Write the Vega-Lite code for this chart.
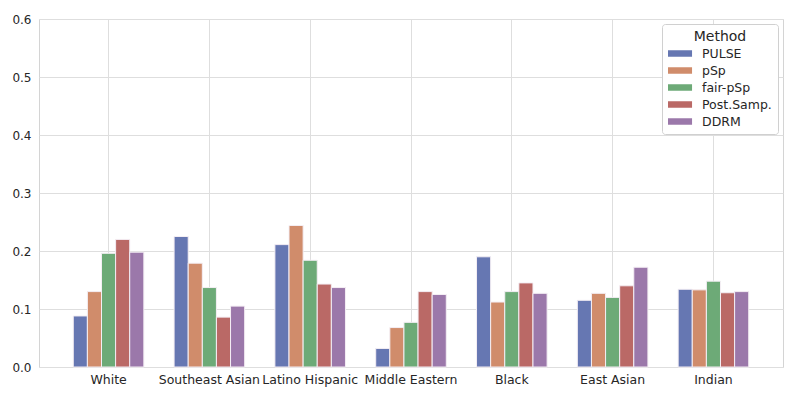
{
  "$schema": "https://vega.github.io/schema/vega-lite/v6.json",
  "width": 744,
  "height": 348,
  "autosize": {"type": "none"},
  "padding": {"left": 39, "top": 19, "right": 14, "bottom": 32},
  "background": "white",
  "config": {
    "font": "DejaVu Sans",
    "view": {"stroke": "#d4d4d4", "strokeWidth": 1},
    "axis": {"labelFont": "DejaVu Sans", "labelColor": "#262626", "labelFontSize": 12, "gridColor": "#dedede", "gridWidth": 1, "domain": false, "ticks": false, "title": null}
  },
  "data": {
    "values": [
      {"group": "White", "method": "PULSE", "value": 0.088},
      {"group": "White", "method": "pSp", "value": 0.130},
      {"group": "White", "method": "fair-pSp", "value": 0.196},
      {"group": "White", "method": "Post.Samp.", "value": 0.220},
      {"group": "White", "method": "DDRM", "value": 0.198},
      {"group": "Southeast Asian", "method": "PULSE", "value": 0.225},
      {"group": "Southeast Asian", "method": "pSp", "value": 0.179},
      {"group": "Southeast Asian", "method": "fair-pSp", "value": 0.137},
      {"group": "Southeast Asian", "method": "Post.Samp.", "value": 0.086},
      {"group": "Southeast Asian", "method": "DDRM", "value": 0.105},
      {"group": "Latino Hispanic", "method": "PULSE", "value": 0.211},
      {"group": "Latino Hispanic", "method": "pSp", "value": 0.244},
      {"group": "Latino Hispanic", "method": "fair-pSp", "value": 0.184},
      {"group": "Latino Hispanic", "method": "Post.Samp.", "value": 0.143},
      {"group": "Latino Hispanic", "method": "DDRM", "value": 0.137},
      {"group": "Middle Eastern", "method": "PULSE", "value": 0.032},
      {"group": "Middle Eastern", "method": "pSp", "value": 0.068},
      {"group": "Middle Eastern", "method": "fair-pSp", "value": 0.077},
      {"group": "Middle Eastern", "method": "Post.Samp.", "value": 0.130},
      {"group": "Middle Eastern", "method": "DDRM", "value": 0.125},
      {"group": "Black", "method": "PULSE", "value": 0.190},
      {"group": "Black", "method": "pSp", "value": 0.112},
      {"group": "Black", "method": "fair-pSp", "value": 0.130},
      {"group": "Black", "method": "Post.Samp.", "value": 0.145},
      {"group": "Black", "method": "DDRM", "value": 0.127},
      {"group": "East Asian", "method": "PULSE", "value": 0.115},
      {"group": "East Asian", "method": "pSp", "value": 0.127},
      {"group": "East Asian", "method": "fair-pSp", "value": 0.120},
      {"group": "East Asian", "method": "Post.Samp.", "value": 0.140},
      {"group": "East Asian", "method": "DDRM", "value": 0.172},
      {"group": "Indian", "method": "PULSE", "value": 0.134},
      {"group": "Indian", "method": "pSp", "value": 0.133},
      {"group": "Indian", "method": "fair-pSp", "value": 0.148},
      {"group": "Indian", "method": "Post.Samp.", "value": 0.128},
      {"group": "Indian", "method": "DDRM", "value": 0.130}
    ]
  },
  "mark": {"type": "bar", "stroke": "#f4eef4", "strokeWidth": 1},
  "encoding": {
    "x": {
      "field": "group", "type": "nominal", "sort": null,
      "scale": {"paddingInner": 0.3, "paddingOuter": 0.34},
      "axis": {"labelAngle": 0, "grid": true, "labelPadding": 6, "bandPosition": 0.5, "labelFontSize": 12.5}
    },
    "xOffset": {"field": "method", "type": "nominal", "sort": ["PULSE", "pSp", "fair-pSp", "Post.Samp.", "DDRM"], "scale": {"paddingInner": 0}},
    "y": {
      "field": "value", "type": "quantitative",
      "scale": {"domain": [0, 0.6], "nice": false},
      "axis": {"values": [0, 0.1, 0.2, 0.3, 0.4, 0.5, 0.6], "format": ".1f", "labelPadding": 8, "grid": true}
    },
    "color": {
      "field": "method", "type": "nominal", "sort": ["PULSE", "pSp", "fair-pSp", "Post.Samp.", "DDRM"],
      "scale": {"domain": ["PULSE", "pSp", "fair-pSp", "Post.Samp.", "DDRM"], "range": ["#6677b2", "#d08c6b", "#6daa77", "#ba6966", "#9b78aa"]},
      "legend": {
        "title": "Method", "orient": "top-right", "offset": 5,
        "titleFontSize": 14, "titleFontWeight": "normal", "titleColor": "#262626", "titleAnchor": "middle", "titlePadding": 3,
        "labelFontSize": 12.5, "labelColor": "#262626",
        "fillColor": "white", "strokeColor": "#d0d0d0", "padding": 6, "cornerRadius": 3,
        "symbolType": "M-1,-0.5H2.7V0.5H-1Z", "symbolSize": 169, "symbolStrokeWidth": 0, "symbolOpacity": 1,
        "rowPadding": 4, "labelOffset": 21
      }
    }
  }
}
